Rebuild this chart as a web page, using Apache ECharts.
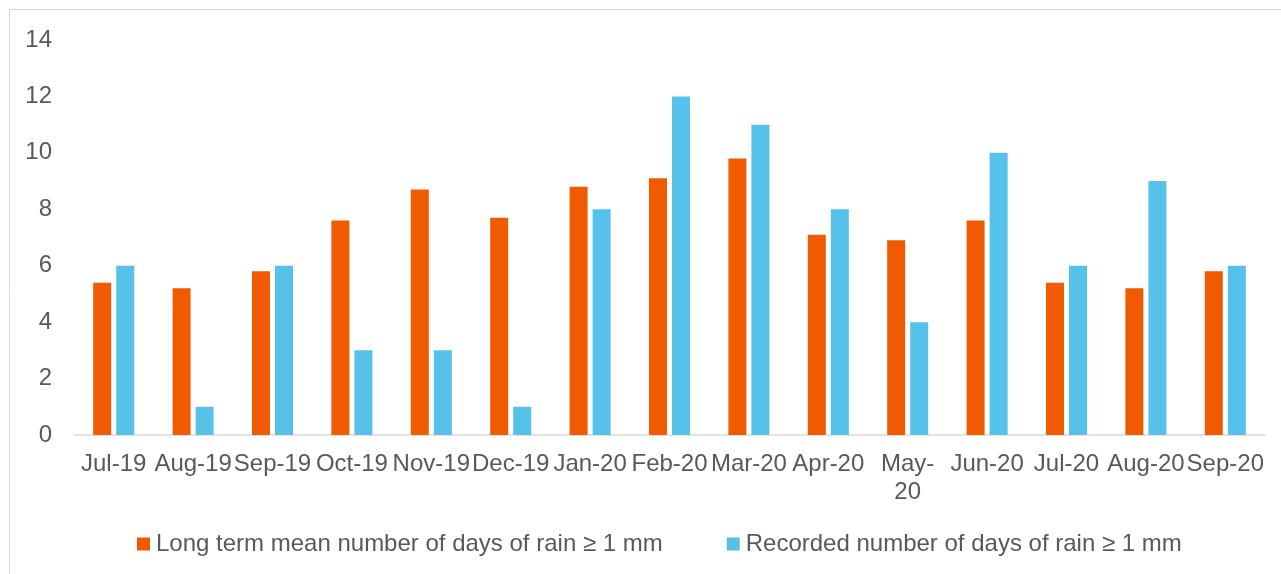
<!DOCTYPE html>
<html>
<head>
<meta charset="utf-8">
<script src="https://cdn.jsdelivr.net/npm/echarts@6/dist/echarts.min.js"></script>
<style>
html,body{margin:0;padding:0;background:#fff;}
#main{width:1281px;height:574px;}
</style>
</head>
<body>
<div id="main"></div>
<script>
const categories = ['Jul-19','Aug-19','Sep-19','Oct-19','Nov-19','Dec-19','Jan-20','Feb-20','Mar-20','Apr-20','May-20','Jun-20','Jul-20','Aug-20','Sep-20'];
const longTermMean = [5.4,5.2,5.8,7.6,8.7,7.7,8.8,9.1,9.8,7.1,6.9,7.6,5.4,5.2,5.8];
const recorded = [6,1,6,3,3,1,8,12,11,8,4,10,6,9,6];
const seriesNames = ['Long term mean number of days of rain \u2265 1 mm','Recorded number of days of rain \u2265 1 mm'];
const yTicks = [0,2,4,6,8,10,12,14];

const chart = echarts.init(document.getElementById('main'));
const txt = '#595959';
const font = 'Liberation Sans, Arial, sans-serif';
chart.setOption({
  animation:false,
  textStyle:{fontFamily:font},
  graphic:[{type:'rect',shape:{x:9.5,y:9.5,width:1300,height:620},style:{fill:'none',stroke:'#d9d9d9',lineWidth:1},silent:true}],
  grid:{left:74,right:16,top:40,bottom:139,containLabel:false},
  legend:{
    left:132, top:527,
    itemWidth:13,itemHeight:13,itemGap:64,
    icon:'rect',
    textStyle:{color:txt,fontSize:24,fontFamily:font,padding:[0,0,0,1]},
    data:seriesNames
  },
  xAxis:{
    type:'category',
    data:categories,
    axisLine:{lineStyle:{color:'#d9d9d9',width:1.5}},
    axisTick:{show:false},
    axisLabel:{
      interval:0,color:txt,fontSize:24,fontFamily:font,margin:15,lineHeight:28,
      formatter:function(v){return v==='May-20'?'May-\n20':v;}
    }
  },
  yAxis:{
    type:'value',min:yTicks[0],max:yTicks[yTicks.length-1],interval:2,
    axisLine:{show:false},axisTick:{show:false},splitLine:{show:false},
    axisLabel:{color:txt,fontSize:24,fontFamily:font,margin:22}
  },
  series:[
    {name:seriesNames[0],type:'bar',data:longTermMean,barWidth:18,barGap:'28%',itemStyle:{color:'#F05A00'}},
    {name:seriesNames[1],type:'bar',data:recorded,barWidth:18,barGap:'28%',itemStyle:{color:'#56C1E9'}}
  ]
});
</script>
</body>
</html>
